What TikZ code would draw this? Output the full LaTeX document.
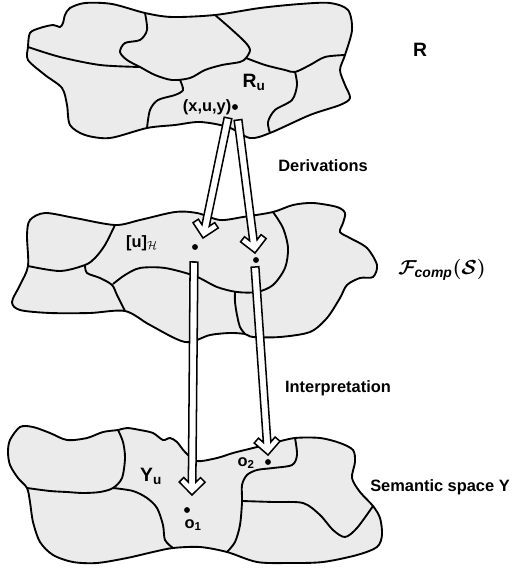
\documentclass[tikz,border=0pt]{standalone}
\usepackage{fontspec}
\setmainfont{Liberation Sans}
\usetikzlibrary{calc}
\definecolor{blobgray}{HTML}{EBEBEB}

% hollow (outlined) arrow from #1 to #2
\newcommand{\hollowarrow}[2]{%
  \draw[hollow] (#2)
    -- ($(#2)!15.6pt!45:(#1)$) -- ($(#2)!16.5pt!25.5:(#1)$)
    -- ($(#2)!11.4pt!16.2:(#1)$) -- ($(#1)!3.3pt!-90:(#2)$)
    -- ($(#1)!3.3pt!90:(#2)$) -- ($(#2)!11.4pt!-16.2:(#1)$)
    -- ($(#2)!16.5pt!-25.5:(#1)$) -- ($(#2)!15.6pt!-45:(#1)$) -- cycle;}

\begin{document}
\begin{tikzpicture}[x=0.03cm, y=-0.03cm,
  border/.style={draw=black, line width=1.6pt},
  hollow/.style={fill=white, draw=black, line width=1.3pt, line join=miter},
  dot/.style={circle, fill=black, inner sep=0pt, minimum size=5pt},
  lbl/.style={font=\fontsize{14}{16}\selectfont\bfseries, inner sep=1pt},
  biglbl/.style={font=\fontsize{16.5}{18}\selectfont\bfseries, inner sep=1pt}
]
\useasboundingbox (0,0) rectangle (512,573);

% Top region: R
\fill[blobgray] plot[smooth cycle] coordinates {
  (28,47) (30,33) (40,28) (53,25) (60,27) (63,23) (65,15) (70,8) (85,3)
  (112,4) (145,13) (172,17) (215,15) (260,8) (300,4) (330,3) (348,10)
  (352,30) (345,55) (340,70) (345,85) (350,98) (340,105) (310,115)
  (270,133) (250,138) (228,127) (200,122) (175,125) (147,128) (110,138)
  (85,135) (70,125) (67,105) (62,88) (45,75) (28,60)};
\draw[border] plot[smooth] coordinates {(28,47) (60,57) (100,65) (140,67)};
\draw[border] plot[smooth] coordinates {
  (145,13) (147,30) (140,40) (125,43) (120,52) (127,60) (140,67) (155,75)
  (172,80) (190,78) (205,70) (222,65) (240,62) (246,58) (250,50) (245,42)
  (230,28) (215,15)};
\draw[border] plot[smooth] coordinates {
  (246,58) (265,65) (285,70) (295,72) (310,65) (325,57) (345,55)};
\draw[border] plot[smooth] coordinates {
  (180,80) (183,90) (175,95) (158,100) (150,110) (147,128)};
\draw[border] plot[smooth] coordinates {
  (295,72) (297,85) (292,100) (275,110) (268,122) (270,133)};
\draw[border] plot[smooth cycle] coordinates {
  (28,47) (30,33) (40,28) (53,25) (60,27) (63,23) (65,15) (70,8) (85,3)
  (112,4) (145,13) (172,17) (215,15) (260,8) (300,4) (330,3) (348,10)
  (352,30) (345,55) (340,70) (345,85) (350,98) (340,105) (310,115)
  (270,133) (250,138) (228,127) (200,122) (175,125) (147,128) (110,138)
  (85,135) (70,125) (67,105) (62,88) (45,75) (28,60)};

% Middle region: F_comp(S)
\fill[blobgray] plot[smooth cycle] coordinates {
  (30,220) (45,213) (75,218) (115,225) (140,220) (175,212) (197,213)
  (220,220) (243,217) (273,212) (293,205) (313,203) (337,207) (345,213)
  (343,223) (340,232) (350,238) (367,248) (377,265) (373,277) (360,278)
  (347,285) (340,298) (327,318) (310,332) (280,337) (253,337) (245,334)
  (230,333) (210,335) (185,342) (150,325) (125,311) (90,313) (50,313)
  (20,310) (12,302) (20,285) (28,266) (27,235)};
\draw[border] plot[smooth] coordinates {
  (115,225) (105,245) (95,258) (85,265) (60,271) (28,266)};
\draw[border] plot[smooth] coordinates {
  (85,265) (87,273) (100,278) (112,285) (117,295) (125,311)};
\draw[border] plot[smooth] coordinates {
  (113,284) (125,275) (140,268) (165,268) (195,276) (217,287) (237,292)
  (257,292) (273,285) (285,268) (288,248) (283,228) (273,212)};
\draw[border] plot[smooth] coordinates {
  (235,292) (235,302) (237,315) (240,327) (245,334)};
\draw[border] plot[smooth cycle] coordinates {
  (30,220) (45,213) (75,218) (115,225) (140,220) (175,212) (197,213)
  (220,220) (243,217) (273,212) (293,205) (313,203) (337,207) (345,213)
  (343,223) (340,232) (350,238) (367,248) (377,265) (373,277) (360,278)
  (347,285) (340,298) (327,318) (310,332) (280,337) (253,337) (245,334)
  (230,333) (210,335) (185,342) (150,325) (125,311) (90,313) (50,313)
  (20,310) (12,302) (20,285) (28,266) (27,235)};

% Bottom region: semantic space Y
\fill[blobgray] plot[smooth cycle] coordinates {
  (10,440) (20,427) (33,427) (50,433) (67,440) (87,438) (103,432)
  (118,430) (127,428) (140,430) (153,433) (163,440) (170,438) (177,442)
  (185,452) (197,461) (217,458) (233,453) (253,448) (273,443) (295,438)
  (320,438) (340,443) (353,450) (355,462) (352,478) (360,492) (373,506)
  (380,518) (382,535) (377,547) (357,555) (323,562) (290,563) (257,562)
  (227,552) (200,547) (173,548) (153,552) (127,558) (97,563) (73,562)
  (53,555) (40,542) (33,522) (30,502) (27,488) (18,478) (10,465) (8,452)};
\draw[border] plot[smooth] coordinates {
  (118,430) (123,442) (125,458) (122,478) (113,488) (100,492) (83,493)
  (67,492) (50,491) (27,488)};
\draw[border] plot[smooth] coordinates {
  (113,488) (133,491) (147,498) (157,508) (163,525) (165,540) (173,548)};
\draw[border] plot[smooth] coordinates {
  (295,438) (297,455) (292,465) (273,468) (257,470) (247,475) (242,485)
  (242,502) (240,525) (235,542) (227,552)};
\draw[border] plot[smooth] coordinates {
  (242,501) (273,502) (303,503) (320,515) (333,530) (345,537) (357,528)
  (373,506)};
\draw[border] plot[smooth cycle] coordinates {
  (10,440) (20,427) (33,427) (50,433) (67,440) (87,438) (103,432)
  (118,430) (127,428) (140,430) (153,433) (163,440) (170,438) (177,442)
  (185,452) (197,461) (217,458) (233,453) (253,448) (273,443) (295,438)
  (320,438) (340,443) (353,450) (355,462) (352,478) (360,492) (373,506)
  (380,518) (382,535) (377,547) (357,555) (323,562) (290,563) (257,562)
  (227,552) (200,547) (173,548) (153,552) (127,558) (97,563) (73,562)
  (53,555) (40,542) (33,522) (30,502) (27,488) (18,478) (10,465) (8,452)};

% Points
\node[dot] (xuy) at (235,107) {};
\node[dot] (pt1) at (195,247) {};
\node[dot] (pt2) at (256,260) {};
\node[dot] (o1dot) at (187,510) {};
\node[dot] (o2dot) at (268,462) {};

% Labels
\node[biglbl] (rlab) at (420,50) {R};
\node[biglbl] (rulab) at (254,82) {R\textsubscript{u}};
\node[lbl, left=2pt] (xuylab) at (xuy) {(x,u,y)};
\node[lbl] (derlab) at (323,166) {Derivations};
\node[lbl] (ulab) at (142,243) {[u]$_{\mathcal{H}}$};
\node[font=\fontsize{17}{19}\selectfont\boldmath] (flab) at (442,270) {$\mathcal{F}_{\mathit{comp}}(\mathcal{S})$};
\node[lbl] (intlab) at (338,388) {Interpretation};
\node[biglbl] (yulab) at (151,476) {Y\textsubscript{u}};
\node[lbl] (o1lab) at (193,525) {o\textsubscript{1}};
\node[lbl] (o2lab) at (246,463) {o\textsubscript{2}};
\node[lbl] (semlab) at (440,487) {Semantic space Y};

% Arrow ends
\coordinate (der1a) at (228,118);
\coordinate (der1b) at (203,238);
\coordinate (der2a) at (238,120);
\coordinate (der2b) at (255,253);
\coordinate (int1a) at (194,262);
\coordinate (int1b) at (192,495);
\coordinate (int2a) at (255,267);
\coordinate (int2b) at (268,455);

% Arrows
\hollowarrow{der1a}{der1b}
\hollowarrow{der2a}{der2b}
\hollowarrow{int1a}{int1b}
\hollowarrow{int2a}{int2b}

\end{tikzpicture}
\end{document}
